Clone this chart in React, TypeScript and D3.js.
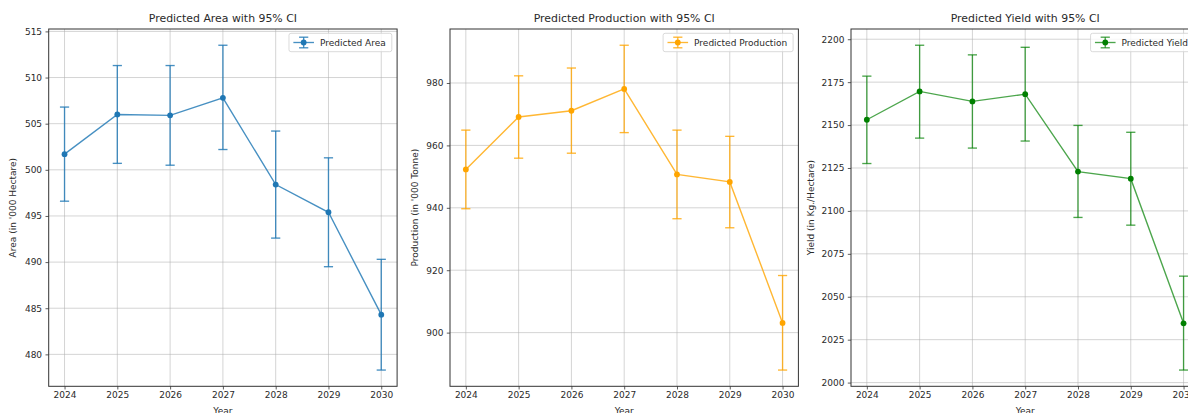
import React, { useEffect, useRef } from "react";
import * as d3 from "d3";

// Forecast years
const years = [2024, 2025, 2026, 2027, 2028, 2029, 2030];

// Area (in '000 Hectare): prediction and 95% CI bounds
const areaMean = [501.7, 506.0, 505.9, 507.8, 498.4, 495.4, 484.3];
const areaLower = [496.6, 500.7, 500.5, 502.2, 492.6, 489.5, 478.3];
const areaUpper = [506.8, 511.3, 511.3, 513.5, 504.2, 501.3, 490.3];

// Production (in '000 Tonne)
const productionMean = [952.3, 969.1, 971.1, 978.1, 950.7, 948.3, 903.1];
const productionLower = [939.7, 955.9, 957.5, 964.1, 936.5, 933.6, 888.0];
const productionUpper = [964.9, 982.3, 984.8, 992.1, 964.9, 962.9, 918.3];

// Yield (in Kg./Hectare)
const yieldMean = [2153.1, 2169.6, 2163.8, 2168.0, 2122.9, 2118.8, 2034.5];
const yieldLower = [2127.6, 2142.4, 2136.6, 2140.7, 2096.2, 2091.7, 2007.3];
const yieldUpper = [2178.5, 2196.5, 2190.9, 2195.3, 2149.8, 2145.8, 2062.0];

// Tick values
const xTicks = years;
const areaTicks = [480, 485, 490, 495, 500, 505, 510, 515];
const productionTicks = [900, 920, 940, 960, 980];
const yieldTicks = [2000, 2025, 2050, 2075, 2100, 2125, 2150, 2175, 2200];

const panels = [
  {
    title: "Predicted Area with 95% CI",
    yLabel: "Area (in '000 Hectare)",
    legend: "Predicted Area",
    color: "#1f77b4",
    lineOpacity: 0.82,
    mean: areaMean,
    lower: areaLower,
    upper: areaUpper,
    ticks: areaTicks,
  },
  {
    title: "Predicted Production with 95% CI",
    yLabel: "Production (in '000 Tonne)",
    legend: "Predicted Production",
    color: "#ffa500",
    lineOpacity: 0.8,
    mean: productionMean,
    lower: productionLower,
    upper: productionUpper,
    ticks: productionTicks,
  },
  {
    title: "Predicted Yield with 95% CI",
    yLabel: "Yield (in Kg./Hectare)",
    legend: "Predicted Yield",
    color: "#008000",
    lineOpacity: 0.7,
    mean: yieldMean,
    lower: yieldLower,
    upper: yieldUpper,
    ticks: yieldTicks,
  },
];

const W = 1188;
const H = 413;
const FONT = "DejaVu Sans, sans-serif";
const panelLefts = [48.7, 450, 851];
const panelWidth = 348.4;
const top = 29;
const bottom = 386.3;

export default function App() {
  const ref = useRef<SVGSVGElement | null>(null);

  useEffect(() => {
    document.body.style.margin = "0";
    const svg = d3.select(ref.current);
    svg.selectAll("*").remove();
    svg.append("rect").attr("width", W).attr("height", H).attr("fill", "#fff");

    panels.forEach((p, i) => {
      const x0 = panelLefts[i];
      const x1 = x0 + panelWidth;
      const x = d3.scaleLinear().domain([2023.7, 2030.3]).range([x0, x1]);
      const lo = d3.min(p.lower) as number;
      const hi = d3.max(p.upper) as number;
      const m = (hi - lo) * 0.05;
      const y = d3.scaleLinear().domain([lo - m, hi + m]).range([bottom, top]);

      const g = svg.append("g");

      // grid
      g.selectAll(".gx")
        .data(xTicks)
        .join("line")
        .attr("x1", (d) => x(d))
        .attr("x2", (d) => x(d))
        .attr("y1", top)
        .attr("y2", bottom)
        .attr("stroke", "#b0b0b0")
        .attr("stroke-opacity", 0.55)
        .attr("stroke-width", 1);
      g.selectAll(".gy")
        .data(p.ticks)
        .join("line")
        .attr("x1", x0)
        .attr("x2", x1)
        .attr("y1", (d) => y(d))
        .attr("y2", (d) => y(d))
        .attr("stroke", "#b0b0b0")
        .attr("stroke-opacity", 0.55)
        .attr("stroke-width", 1);

      // axes
      const xAxis = d3
        .axisBottom(x)
        .tickValues(xTicks)
        .tickFormat(d3.format("d"))
        .tickSize(3.2)
        .tickPadding(2.6);
      const ax = g.append("g").attr("transform", `translate(0,${bottom})`).call(xAxis);
      const yAxis = d3
        .axisLeft(y)
        .tickValues(p.ticks)
        .tickFormat(d3.format("d"))
        .tickSize(3.2)
        .tickPadding(3.4);
      const ay = g.append("g").attr("transform", `translate(${x0},0)`).call(yAxis);
      [ax, ay].forEach((a) => {
        a.select(".domain").remove();
        a.selectAll("line").attr("stroke", "#333").attr("stroke-width", 0.8);
        a.selectAll("text")
          .attr("font-family", FONT)
          .attr("font-size", 9)
          .attr("fill", "#2a2a2a");
      });

      // frame
      g.append("rect")
        .attr("x", x0)
        .attr("y", top)
        .attr("width", panelWidth)
        .attr("height", bottom - top)
        .attr("fill", "none")
        .attr("stroke", "#333")
        .attr("stroke-width", 1);

      // error bars
      const eb = g.append("g").attr("stroke", p.color).attr("stroke-opacity", p.lineOpacity).attr("stroke-width", 1.35);
      years.forEach((yr, k) => {
        const cx = x(yr);
        eb.append("line").attr("x1", cx).attr("x2", cx).attr("y1", y(p.lower[k])).attr("y2", y(p.upper[k]));
        [p.lower[k], p.upper[k]].forEach((v) => {
          eb.append("line").attr("x1", cx - 4.6).attr("x2", cx + 4.6).attr("y1", y(v)).attr("y2", y(v));
        });
      });

      // connecting line
      const line = d3
        .line<number>()
        .x((_, k) => x(years[k]))
        .y((d) => y(d));
      g.append("path")
        .datum(p.mean)
        .attr("d", line)
        .attr("fill", "none")
        .attr("stroke", p.color)
        .attr("stroke-opacity", p.lineOpacity)
        .attr("stroke-width", 1.4);

      // markers
      g.selectAll(".pt")
        .data(p.mean)
        .join("circle")
        .attr("cx", (_, k) => x(years[k]))
        .attr("cy", (d) => y(d))
        .attr("r", 2.9)
        .attr("fill", p.color);

      // title
      g.append("text")
        .attr("x", (x0 + x1) / 2)
        .attr("y", 22)
        .attr("text-anchor", "middle")
        .attr("font-family", FONT)
        .attr("font-size", 10.9)
        .attr("fill", "#2a2a2a")
        .text(p.title);

      // axis labels
      g.append("text")
        .attr("x", (x0 + x1) / 2)
        .attr("y", 414)
        .attr("text-anchor", "middle")
        .attr("font-family", FONT)
        .attr("font-size", 9)
        .attr("fill", "#2a2a2a")
        .text("Year");
      const yLabelX = [13.3, 415, 810.7][i];
      g.append("text")
        .attr("transform", `translate(${yLabelX},${(top + bottom) / 2}) rotate(-90)`)
        .attr("text-anchor", "middle")
        .attr("dominant-baseline", "central")
        .attr("font-family", FONT)
        .attr("font-size", 9)
        .attr("fill", "#2a2a2a")
        .text(p.yLabel);

      // legend
      const lg = g.append("g");
      const box = lg.append("rect");
      const txt = lg
        .append("text")
        .attr("font-family", FONT)
        .attr("font-size", 9)
        .attr("fill", "#2a2a2a")
        .text(p.legend);
      const tw = (txt.node() as SVGTextElement).getComputedTextLength();
      const bw = 31 + tw + 6;
      const bx = x1 - 5.3 - bw;
      const by = 33.3;
      const bh = 18.4;
      box
        .attr("x", bx)
        .attr("y", by)
        .attr("width", bw)
        .attr("height", bh)
        .attr("rx", 2)
        .attr("fill", "#fff")
        .attr("fill-opacity", 0.8)
        .attr("stroke", "#d0d0d0")
        .attr("stroke-width", 0.8);
      txt.attr("x", bx + 31).attr("y", by + 12.4);
      const hy = by + 9.2;
      const hx = bx + 14.7;
      const hs = lg.append("g").attr("stroke", p.color).attr("stroke-opacity", p.lineOpacity).attr("stroke-width", 1.35);
      hs.append("line").attr("x1", bx + 4.4).attr("x2", bx + 25).attr("y1", hy).attr("y2", hy);
      hs.append("line").attr("x1", hx).attr("x2", hx).attr("y1", hy - 5.3).attr("y2", hy + 5.3);
      hs.append("line").attr("x1", hx - 4.6).attr("x2", hx + 4.6).attr("y1", hy - 5.3).attr("y2", hy - 5.3);
      hs.append("line").attr("x1", hx - 4.6).attr("x2", hx + 4.6).attr("y1", hy + 5.3).attr("y2", hy + 5.3);
      lg.append("circle").attr("cx", hx).attr("cy", hy).attr("r", 2.9).attr("fill", p.color);
    });
  }, []);

  return (
    <svg
      ref={ref}
      width={W}
      height={H}
      viewBox={`0 0 ${W} ${H}`}
      style={{ display: "block", position: "absolute", left: 0, top: 0, overflow: "hidden" }}
    />
  );
}
